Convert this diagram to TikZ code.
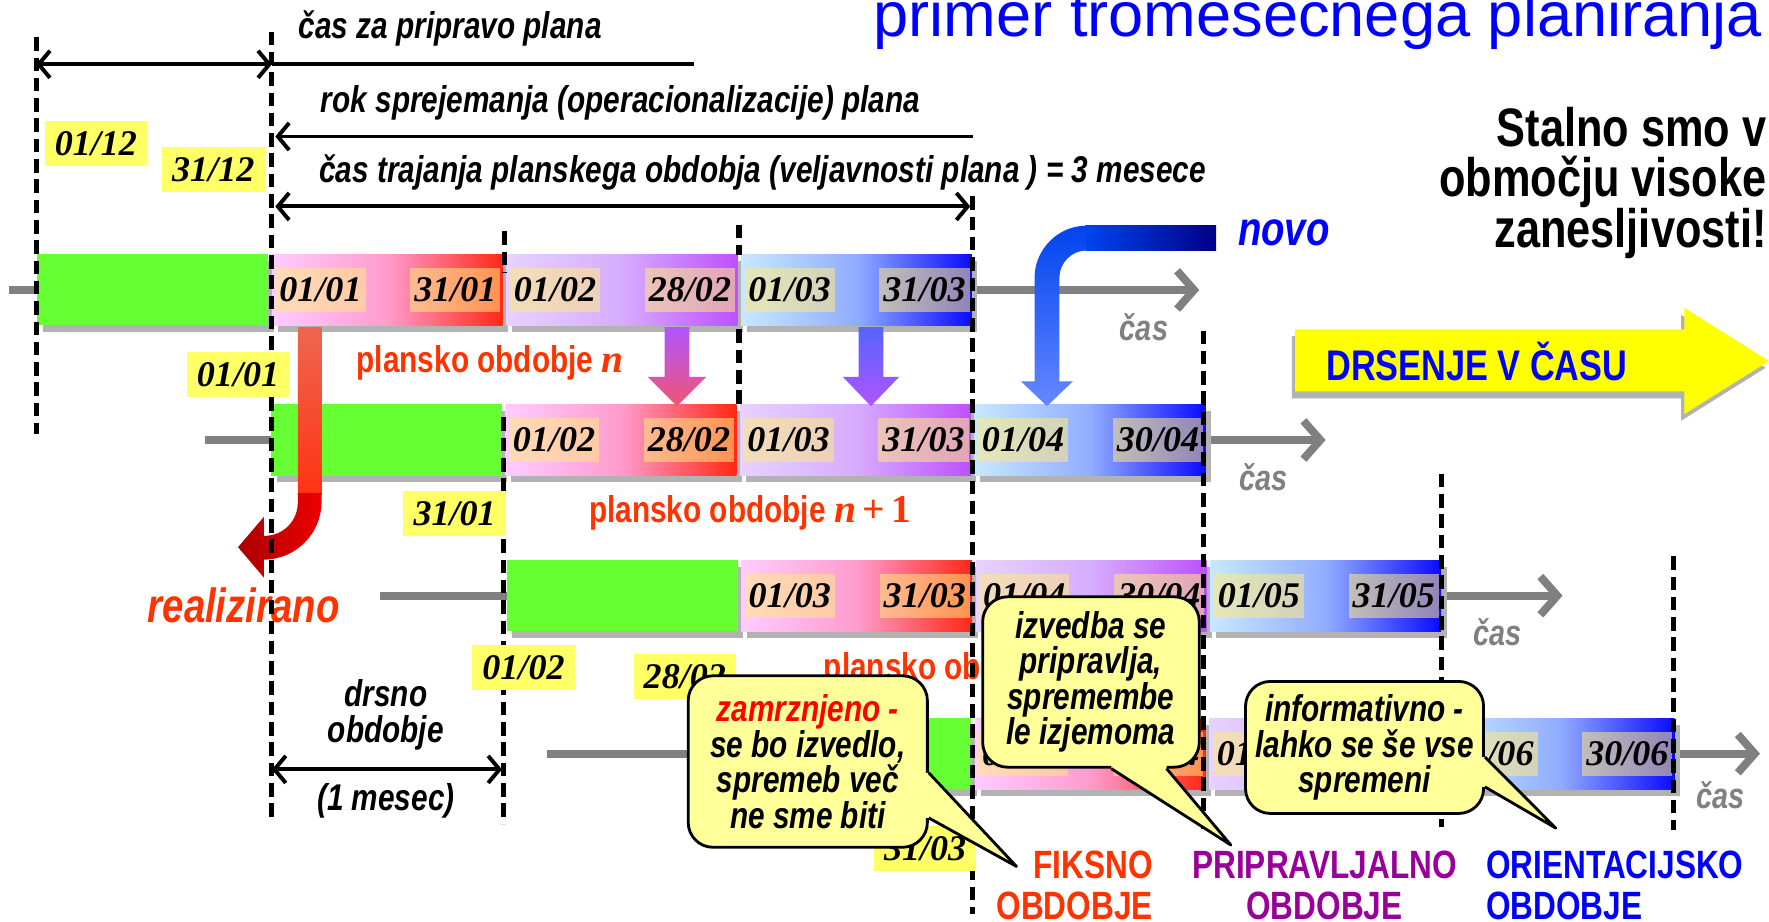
\documentclass[tikz,border=0pt]{standalone}
\usepackage{fontspec}
\setmainfont{Liberation Sans}
\newfontfamily\narrowsf[FakeStretch=0.8]{Liberation Sans}
\newfontfamily\datefont{Liberation Serif}
\usetikzlibrary{arrows.meta, positioning, calc, shadows}

\definecolor{planblue}{RGB}{0,0,255}
\definecolor{realred}{RGB}{255,51,0}
\definecolor{freezered}{RGB}{255,0,0}
\definecolor{prepurple}{RGB}{153,0,153}
\definecolor{donegreen}{RGB}{102,255,51}
\definecolor{dateyellow}{RGB}{255,255,102}
\definecolor{calloutyellow}{RGB}{255,255,153}
\definecolor{slideyellow}{RGB}{255,255,0}
\definecolor{timegray}{RGB}{128,128,128}
\definecolor{tagbg}{RGB}{255,233,128}
\definecolor{pinkL}{RGB}{255,204,255}
\definecolor{pinkM}{RGB}{255,155,205}
\definecolor{pinkR}{RGB}{255,40,20}
\definecolor{lavL}{RGB}{230,210,255}
\definecolor{lavM}{RGB}{215,172,255}
\definecolor{lavR}{RGB}{190,80,255}
\definecolor{skyL}{RGB}{200,232,255}
\definecolor{skyM}{RGB}{145,172,255}
\definecolor{skyR}{RGB}{10,10,255}
\definecolor{arrowpurple}{RGB}{176,85,255}
\definecolor{arrowpink}{RGB}{240,85,115}
\definecolor{arrowblue}{RGB}{85,100,255}
\definecolor{redtop}{RGB}{238,102,80}
\definecolor{redmid}{RGB}{255,51,17}
\definecolor{reddark}{RGB}{170,0,0}
\definecolor{redbright}{RGB}{238,0,0}
\definecolor{novoblue}{RGB}{0,68,238}
\definecolor{novonavy}{RGB}{0,0,136}
\definecolor{novolight}{RGB}{102,136,255}

\newcommand\bisize[2]{\narrowsf\bfseries\itshape\fontsize{#1}{#2}\selectfont}
\newcommand\bsize[2]{\narrowsf\bfseries\fontsize{#1}{#2}\selectfont}
\newcommand\datesize{\datefont\bfseries\itshape\fontsize{32}{32}\selectfont}
\newcommand\mathn{\datefont\bfseries\itshape\fontsize{35}{35}\selectfont}
\newcommand\mathup{\datefont\fontsize{35}{35}\selectfont}

\begin{document}
\begin{tikzpicture}[x=1pt, y=-1pt,
  gridline/.style={line width=4.5pt, dash pattern=on 12pt off 6pt},
  dimarrow/.style={line width=3.5pt, {Straight Barb[length=10pt,width=24pt]}-{Straight Barb[length=10pt,width=24pt]}},
  backarrow/.style={line width=3.5pt, {Straight Barb[length=10pt,width=24pt]}-},
  timeline/.style={line width=7pt, draw=timegray, -{Straight Barb[length=15pt,width=34pt]}},
  boxshadow/.style={drop shadow={shadow xshift=5pt, shadow yshift=-6pt, fill=black!30, opacity=1}},
  donebox/.style={fill=donegreen, minimum width=204.5pt, minimum height=63pt, inner sep=0pt, anchor=west, boxshadow},
  monthbox/.style={minimum width=204.5pt, minimum height=63pt, inner sep=0pt, boxshadow},
  firstmonth/.style={monthbox, left color=pinkL, right color=pinkR, middle color=pinkM},
  secondmonth/.style={monthbox, left color=lavL, right color=lavR, middle color=lavM},
  thirdmonth/.style={monthbox, left color=skyL, right color=skyR, middle color=skyM},
  daytag/.style={fill=tagbg, fill opacity=0.55, text opacity=1, font=\datesize, inner xsep=3.5pt, inner ysep=0pt, minimum height=39pt},
  datetag/.style={fill=dateyellow, font=\datesize, inner xsep=9pt, inner ysep=0pt, minimum height=40pt},
  caslabel/.style={text=timegray, font={\bisize{32}{32}}, inner sep=0pt},
  bigtext/.style={font={\bisize{33}{32}}, align=center, inner sep=0pt},
  periodlabel/.style={text=realred, font={\bsize{33}{33}}, inner sep=0pt, anchor=west},
  callout/.style={draw, line width=2.5pt, fill=calloutyellow, rounded corners=22pt, align=center, font={\bisize{33}{31.5}}, inner sep=0pt},
  calloutline/.style={line width=2.5pt, line join=round},
  phase/.style={font={\bsize{35}{36}}, inner sep=0pt}
]
  \fill[white] (0,0) rectangle (1568,817);
  \useasboundingbox (0,0) rectangle (1568,817);

  % headings
  \node[text=planblue, font={\fontsize{56}{56}\selectfont}, anchor=base east, inner sep=0pt] (title) at (1562,32) {primer tromesečnega planiranja};
  \node[bigtext] (preptime) at (399,25) {čas za pripravo plana};
  \node[bigtext] (accept) at (550,91) {rok sprejemanja (operacionalizacije) plana};
  \node[bigtext] (validity) at (676,153) {čas trajanja planskega obdobja (veljavnosti plana ) = 3 mesece};
  \node[font={\bsize{48}{45}}, align=right, anchor=east, inner sep=0pt] (always) at (1566,162) {Stalno smo v\\območju visoke\\zanesljivosti!};
  \node[text=planblue, font={\bisize{42.5}{42.5}}, inner sep=0pt] (novo) at (1138,206) {novo};
  \node[text=realred, font={\bisize{42.5}{42.5}}, inner sep=0pt] (realized) at (216,537) {realizirano};
  \node[periodlabel] (pern) at (316,322) {plansko obdobje {\mathn n}};
  \node[periodlabel] (pern1) at (522,455) {plansko obdobje {\mathn n}{\mathup\,+\,1}};
  \node[periodlabel] (pern2) at (730,594) {plansko obdobje {\mathn n}{\mathup\,+\,2}};

  % rolling rows
  \foreach \r/\gx/\yc/\ts/\te/\cx/\cy/\ma/\ea/\mb/\eb/\mc/\ec in {
    1/33/257/8/1063/1014/290/01/31/02/28/03/31,
    2/240/390/182/1175/1120/423/02/28/03/31/04/30,
    3/449/528/337/1385/1327/560/03/31/04/30/05/31,
    4/656/668/485/1560/1525/705/04/30/05/31/06/30}
  {
    \coordinate (ts\r) at (\ts,\yc);
    \coordinate (te\r) at (\te,\yc);
    \draw[timeline] (ts\r) -- (te\r);
    \node[donebox] (done\r) at (\gx,\yc) {};
    \node[firstmonth, right=3pt of done\r] (ma\r) {};
    \node[secondmonth, right=3pt of ma\r] (mb\r) {};
    \node[thirdmonth, right=3pt of mb\r] (mc\r) {};
    \node[daytag, anchor=west] (ma\r s) at ([xshift=3pt]ma\r.west) {01/\ma};
    \node[daytag, anchor=east] (ma\r e) at ([xshift=-2pt]ma\r.east) {\ea/\ma};
    \node[daytag, anchor=west] (mb\r s) at ([xshift=3pt]mb\r.west) {01/\mb};
    \node[daytag, anchor=east] (mb\r e) at ([xshift=-2pt]mb\r.east) {\eb/\mb};
    \node[daytag, anchor=west] (mc\r s) at ([xshift=3pt]mc\r.west) {01/\mc};
    \node[daytag, anchor=east] (mc\r e) at ([xshift=-2pt]mc\r.east) {\ec/\mc};
    \node[caslabel] (cas\r) at (\cx,\cy) {čas};
  }

  % shifting arrows
  \shade[top color=arrowpurple, bottom color=arrowpink] (589,290) -- (611,290) -- (611,334) -- (626,334) -- (600,360) -- (574,334) -- (589,334) -- cycle;
  \shade[top color=arrowblue, bottom color=arrowpurple] (761,290) -- (783,290) -- (783,334) -- (797,334) -- (772,360) -- (747,334) -- (761,334) -- cycle;
  \shade[top color=redtop, bottom color=redmid] (264,290) rectangle (285,438);
  \shade[left color=reddark, right color=redbright] (264,437) -- (264,445) .. controls (264,462) and (251,475) .. (234,475) -- (234,458) -- (211,485) -- (234,512) -- (234,496) .. controls (262,496) and (285,473) .. (285,445) -- (285,437) -- cycle;
  \shade[left color=novoblue, right color=novonavy] (962,200) rectangle (1078,222);
  \shade[top color=novoblue, bottom color=novolight] (963,200) .. controls (938,200) and (917,221) .. (917,246) -- (917,338) -- (905,338) -- (928,360) -- (951,338) -- (939,338) -- (939,246) .. controls (939,233) and (950,222) .. (963,222) -- cycle;

  % month limits
  \foreach \k/\lx/\top/\bot in {0/32/33/385, 1/241/28/728, 2a/447/205/242, 2b/446/370/730, 3a/655/199/226, 3b/655/292/360, 4/862/174/810, 5/1067/293/735, 6/1278/420/733, 7/1483/493/736}
  {
    \coordinate (v\k t) at (\lx,\top);
    \coordinate (v\k b) at (\lx,\bot);
    \draw[gridline] (v\k t) -- (v\k b);
  }

  % dates on the limits
  \node[datetag] (d0112) at (85,127) {01/12};
  \node[datetag] (d3112) at (189,150) {31/12};
  \node[datetag] (d0101) at (211,332) {01/01};
  \node[datetag] (d3101) at (403,455) {31/01};
  \node[datetag] (d0102) at (464,592) {01/02};
  \node[datetag] (d2802) at (607,600) {28/02};
  \node[datetag] (d3103) at (820,752) {31/03};

  % spans
  \coordinate (prepstart) at (32,57);
  \coordinate (prepend) at (241,57);
  \coordinate (prepline) at (615,57);
  \draw[dimarrow] (prepstart) -- (prepend);
  \draw[line width=3.5pt] (prepend) -- (prepline);
  \coordinate (accstart) at (244,121);
  \coordinate (accend) at (862,121);
  \draw[backarrow] (accstart) -- (accend);
  \coordinate (valstart) at (244,183);
  \coordinate (valend) at (860,183);
  \draw[dimarrow] (valstart) -- (valend);

  \node[bigtext] (slide) at (342,634) {drsno\\obdobje};
  \coordinate (slidestart) at (241,682);
  \coordinate (slideend) at (445,682);
  \draw[dimarrow] (slidestart) -- (slideend);
  \node[bigtext] (onemonth) at (342,710) {(1 mesec)};

  % sliding in time
  \begin{scope}[shift={(-3,6)}]
    \fill[black!30] (1148,292) -- (1493,292) -- (1493,273) -- (1568,320) -- (1493,367) -- (1493,347) -- (1148,347) -- cycle;
  \end{scope}
  \fill[slideyellow] (1148,292) -- (1493,292) -- (1493,273) -- (1568,320) -- (1493,367) -- (1493,347) -- (1148,347) -- cycle;
  \node[text=planblue, font={\bsize{38}{38}}, inner sep=0pt] (sliding) at (1309,320) {DRSENJE V ČASU};

  % callouts
  \node[callout, minimum width=212pt, minimum height=152pt] (freeze) at (716,675) {{\color{freezered}zamrznjeno -}\\se bo izvedlo,\\spremeb več\\ne sme biti};
  \coordinate (freezetip) at (901,768);
  \fill[calloutyellow] ($(freeze.east)+(-6,10)$) -- ($(freeze.east)+(0,10)$) -- (freezetip) -- ($(freeze.east)+(0,50)$) -- ($(freeze.east)+(-6,50)$) -- cycle;
  \draw[calloutline] ($(freeze.east)+(0,10)$) -- (freezetip) -- ($(freeze.east)+(0,50)$);

  \node[callout, minimum width=192pt, minimum height=151pt] (prepare) at (967,604.5) {izvedba se\\pripravlja,\\spremembe\\le izjemoma};
  \coordinate (preparetip) at (1091,749);
  \fill[calloutyellow] ($(prepare.south)+(18,-6)$) -- ($(prepare.south)+(18,0)$) -- (preparetip) -- ($(prepare.south)+(67,0)$) -- ($(prepare.south)+(67,-6)$) -- cycle;
  \draw[calloutline] ($(prepare.south)+(18,0)$) -- (preparetip) -- ($(prepare.south)+(67,0)$);

  \node[callout, minimum width=211pt, minimum height=117pt] (inform) at (1209.5,662.5) {informativno -\\lahko se še vse\\spremeni};
  \coordinate (informtip) at (1379,734);
  \fill[calloutyellow] ($(inform.east)+(-6,8.5)$) -- ($(inform.east)+(0,8.5)$) -- (informtip) -- ($(inform.east)+(0,35)$) -- ($(inform.east)+(-6,35)$) -- cycle;
  \draw[calloutline] ($(inform.east)+(0,8.5)$) -- (informtip) -- ($(inform.east)+(0,35)$);

  % horizons
  \node[phase, text=realred, align=right, anchor=east] (fixed) at (1022,785) {FIKSNO\\OBDOBJE};
  \node[phase, text=prepurple, align=center] (preparing) at (1174,785) {PRIPRAVLJALNO\\OBDOBJE};
  \node[phase, text=planblue, align=left, anchor=west] (orient) at (1317,785) {ORIENTACIJSKO\\OBDOBJE};
\end{tikzpicture}
\end{document}
